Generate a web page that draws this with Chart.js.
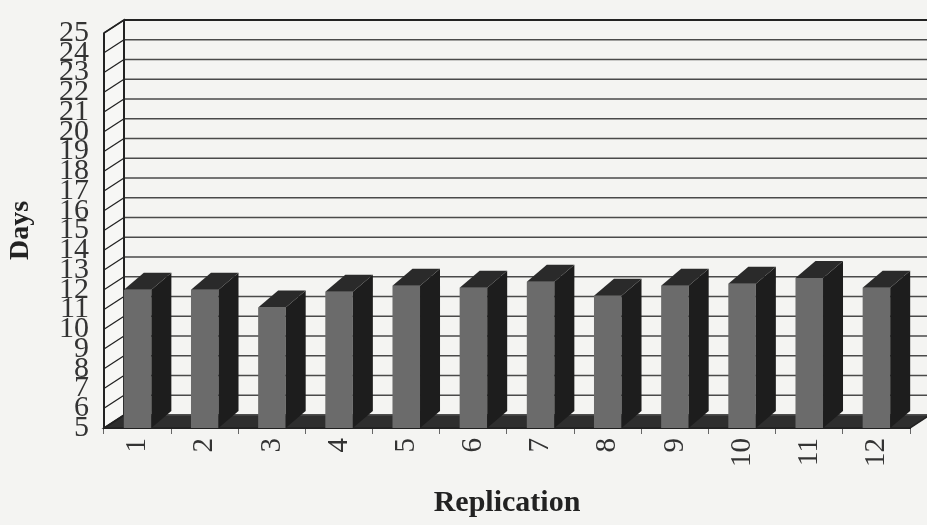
<!DOCTYPE html>
<html>
<head>
<meta charset="utf-8">
<script src="https://cdn.jsdelivr.net/npm/chart.js@4.4.1/dist/chart.umd.min.js"></script>
<style>
  html, body { margin: 0; padding: 0; background: #f4f4f2; }
  #wrap { width: 927px; height: 525px; }
</style>
</head>
<body>
<div id="wrap"><canvas id="myChart"></canvas></div>
<script>
// data
const replications = ['1', '2', '3', '4', '5', '6', '7', '8', '9', '10', '11', '12'];
const days = [12.0, 12.0, 11.1, 11.9, 12.2, 12.1, 12.4, 11.7, 12.2, 12.3, 12.6, 12.1];
const yMin = 5;
const yMax = 25;

// fake 3d depth (px)
const WALL_DX = 20, WALL_DY = 13;
const BAR_DX = 20, BAR_DY = 17;

const serif = '"Liberation Serif", "Times New Roman", serif';

function poly(ctx, pts, fill, stroke) {
  ctx.beginPath();
  ctx.moveTo(pts[0][0], pts[0][1]);
  for (let i = 1; i < pts.length; i++) ctx.lineTo(pts[i][0], pts[i][1]);
  ctx.closePath();
  if (fill) { ctx.fillStyle = fill; ctx.fill(); }
  if (stroke) { ctx.strokeStyle = stroke; ctx.stroke(); }
}

const walls3d = {
  id: 'walls3d',
  beforeDatasetsDraw(chart) {
    const { ctx, chartArea: a, scales: { y } } = chart;
    ctx.save();
    ctx.lineWidth = 1.5;

    // floor
    poly(ctx, [[a.left, a.bottom], [a.right, a.bottom], [a.right + WALL_DX, a.bottom - WALL_DY],
      [a.left + WALL_DX, a.bottom - WALL_DY]], '#2e2e2e', '#222');

    // side wall
    poly(ctx, [[a.left, a.top], [a.left + WALL_DX, a.top - WALL_DY],
      [a.left + WALL_DX, a.bottom - WALL_DY], [a.left, a.bottom]], '#f7f7f5', '#222');

    // grid on back wall + diagonals on side wall
    for (let v = yMin; v <= yMax; v++) {
      const py = y.getPixelForValue(v);
      ctx.strokeStyle = v === yMax ? '#222' : '#4a4a4a';
      ctx.lineWidth = v === yMax ? 2 : 1.3;
      ctx.beginPath();
      ctx.moveTo(a.left + WALL_DX, py - WALL_DY);
      ctx.lineTo(a.right + WALL_DX + 20, py - WALL_DY);
      ctx.stroke();

      ctx.strokeStyle = '#222';
      ctx.lineWidth = 1.3;
      ctx.beginPath();
      ctx.moveTo(a.left, py);
      ctx.lineTo(a.left + WALL_DX, py - WALL_DY);
      ctx.stroke();
    }

    // back corner + front edge of side wall
    ctx.lineWidth = 2;
    ctx.strokeStyle = '#222';
    ctx.beginPath();
    ctx.moveTo(a.left + WALL_DX, a.top - WALL_DY);
    ctx.lineTo(a.left + WALL_DX, a.bottom - WALL_DY);
    ctx.moveTo(a.left, a.top);
    ctx.lineTo(a.left, a.bottom);
    ctx.stroke();
    ctx.restore();
  },
  afterDatasetsDraw(chart) {
    const { ctx, scales: { y: yScale } } = chart;
    const meta = chart.getDatasetMeta(0);
    const base = yScale.getPixelForValue(yMin);
    ctx.save();
    meta.data.forEach(bar => {
      const { x, y, width } = bar.getProps(['x', 'y', 'width'], true);
      const l = x - width / 2, r = x + width / 2;
      // right side
      poly(ctx, [[r, y], [r + BAR_DX, y - BAR_DY], [r + BAR_DX, base - BAR_DY], [r, base]], '#1d1d1d');
      // top
      poly(ctx, [[l, y], [l + BAR_DX, y - BAR_DY], [r + BAR_DX, y - BAR_DY], [r, y]], '#2a2a2a');
    });
    ctx.restore();
  }
};

const ctx = document.getElementById('myChart').getContext('2d');

new Chart(ctx, {
  type: 'bar',
  data: {
    labels: replications,
    datasets: [{
      label: 'Days',
      data: days,
      backgroundColor: '#6b6b6b',
      borderWidth: 0,
      categoryPercentage: 1.0,
      barPercentage: 0.41
    }]
  },
  options: {
    responsive: true,
    maintainAspectRatio: false,
    animation: false,
    layout: { padding: { top: 23, right: 17, left: 0, bottom: 0 } },
    plugins: {
      legend: { display: false },
      tooltip: { enabled: false }
    },
    scales: {
      x: {
        afterFit: s => { s.height = 97; },
        grid: { display: true, drawOnChartArea: false, drawTicks: true, tickLength: 6, color: '#666', lineWidth: 1 },
        border: { display: true, color: '#222', width: 2 },
        ticks: {
          color: '#333',
          minRotation: 90,
          maxRotation: 90,
          padding: 4,
          font: { family: serif, size: 29 }
        },
        title: {
          display: true,
          text: 'Replication',
          color: '#222',
          padding: { top: 0, bottom: 4 },
          font: { family: serif, size: 30, weight: 'bold' }
        }
      },
      y: {
        min: yMin,
        max: yMax,
        afterFit: s => { s.width = 104; },
        grid: { display: false, drawTicks: false },
        border: { display: false },
        ticks: {
          stepSize: 1,
          autoSkip: false,
          color: '#333',
          padding: 15,
          font: { family: serif, size: 30 }
        },
        title: {
          display: true,
          text: 'Days',
          color: '#222',
          padding: { top: 4, bottom: 0 },
          font: { family: serif, size: 28, weight: 'bold' }
        }
      }
    }
  },
  plugins: [walls3d]
});
</script>
</body>
</html>
